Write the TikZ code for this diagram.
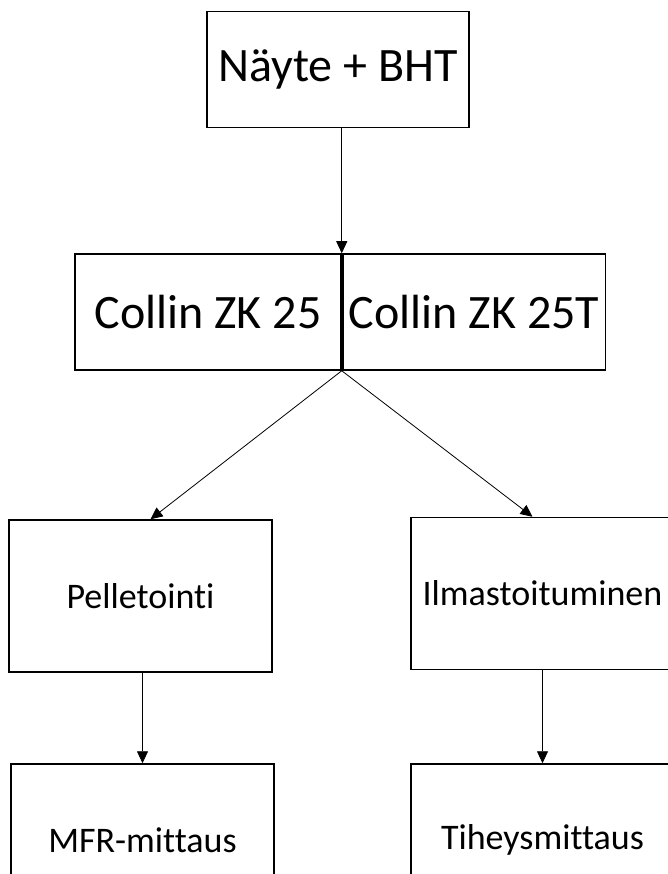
\documentclass[tikz,border=0pt]{standalone}
\usepackage{fontspec}
\setmainfont[Ligatures={NoCommon}]{Carlito}
\usetikzlibrary{positioning, arrows.meta}

\begin{document}
\begin{tikzpicture}[x=1pt, y=-1pt, >={Triangle[width=11pt,length=12pt]},
    box/.style={draw, line width=1.5pt, rectangle, inner sep=0pt, minimum width=263pt, minimum height=152pt, font=\fontsize{36}{42}\selectfont},
    bigbox/.style={box, minimum height=116pt, font=\fontsize{48}{58}\selectfont},
    link/.style={->, line width=0.8pt}]
      \clip (0,0) rectangle (668,874);
      \node[bigbox, minimum width=262pt] (nayte) at (338,69.5) {Näyte + BHT};
      \node[bigbox, minimum width=266pt] (zk25) at (208,312) {Collin ZK 25};
      \node[bigbox, anchor=west] (zk25t) at (zk25.east) {Collin ZK 25T};
      \draw[line width=4pt] (zk25.north east) -- (zk25.south east);
      \node[box] (pellet) at (140.5,596) {Pelletointi};
      \node[box] (ilma) at (542.5,593.5) {Ilmastoituminen};
      \node[box] (mfr) at (142.5,840) {MFR-mittaus};
      \node[box] (tiheys) at (542.5,840) {Tiheysmittaus};
      \draw[link] (nayte.south -| zk25.north east) -- (zk25.north east);
      \draw[link] (zk25.south east) -- ([xshift=10pt]pellet.north);
      \draw[link] (zk25.south east) -- ([xshift=-10pt]ilma.north);
      \draw[link] (pellet.south -| mfr.north) -- (mfr.north);
      \draw[link] (ilma.south) -- (tiheys.north);
    \end{tikzpicture}
\end{document}
